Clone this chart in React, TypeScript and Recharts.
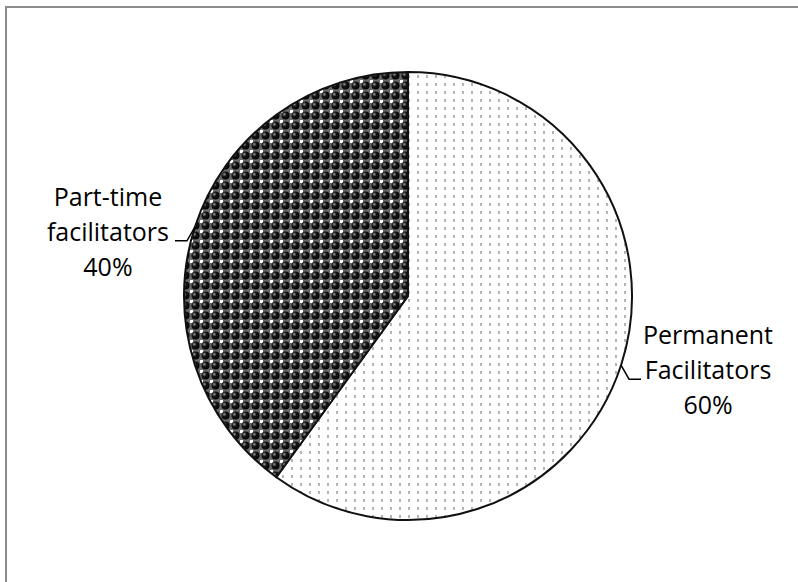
import { Cell, Pie, PieChart } from 'recharts';

const categories = ['Permanent Facilitators', 'Part-time facilitators'];
const shares = [60, 40];
const fills = ['url(#dotsLight)', 'url(#ballsDark)'];

const data = categories.map((name, i) => ({ name, value: shares[i] }));

const RADIAN = Math.PI / 180;
const FONT = '"Open Sans", "DejaVu Sans", sans-serif';

// Excel-style callout: short elbow leader, three centred text lines
const renderLabel = (props: any) => {
  const { cx, cy, midAngle, outerRadius, name, value } = props;
  const cos = Math.cos(-midAngle * RADIAN);
  const sin = Math.sin(-midAngle * RADIAN);
  const side = cos >= 0 ? 1 : -1;
  const ex = cx + outerRadius * cos;
  const ey = cy + outerRadius * sin;
  const bx = ex + side * 8;
  const by = ey + 14;
  const lx = bx + side * 12;
  const tx = lx + side * 67;
  const lines = [...String(name).split(' '), `${value}%`];
  return (
    <g>
      <polyline
        points={`${ex},${ey} ${bx},${by} ${lx},${by}`}
        fill="none"
        stroke="#000"
        strokeWidth={1.5}
      />
      {lines.map((line, i) => (
        <text
          key={i}
          x={tx}
          y={by + (i - 1) * 35}
          textAnchor="middle"
          fill="#000"
          fontFamily={FONT}
          fontSize={25}
        >
          {line}
        </text>
      ))}
    </g>
  );
};

export default function App() {
  return (
    <div style={{ position: 'absolute', left: 0, top: 0, width: 798, height: 582, background: '#fff', overflow: 'hidden' }}>
      <div
        style={{
          position: 'absolute',
          left: 5,
          top: 6,
          width: 820,
          height: 620,
          borderTop: '2px solid #8c8c8c',
          borderLeft: '2px solid #8c8c8c',
        }}
      />
      <PieChart width={798} height={582} style={{ position: 'absolute', left: 0, top: 0 }}>
        <defs>
          <pattern id="dotsLight" width={9} height={8} patternUnits="userSpaceOnUse">
            <rect width={9} height={8} fill="#fff" />
            <rect x={3} y={3} width={2} height={3} fill="#b4b4b4" />
          </pattern>
          <radialGradient id="ball" cx="0.35" cy="0.35" r="0.7">
            <stop offset="0%" stopColor="#999" />
            <stop offset="40%" stopColor="#151515" />
            <stop offset="100%" stopColor="#000" />
          </radialGradient>
          <pattern id="ballsDark" width={10} height={10} patternUnits="userSpaceOnUse">
            <rect width={10} height={10} fill="#6a6a6a" />
            <rect x={0} y={0} width={3} height={3} fill="#fff" />
            <circle cx={5.5} cy={5.5} r={4} fill="url(#ball)" />
          </pattern>
        </defs>
        <Pie
          data={data}
          dataKey="value"
          nameKey="name"
          cx={403}
          cy={291}
          outerRadius={224}
          startAngle={90}
          endAngle={-270}
          stroke="#111"
          strokeWidth={2}
          label={renderLabel}
          labelLine={false}
          isAnimationActive={false}
        >
          {data.map((d, i) => (
            <Cell key={d.name} fill={fills[i]} />
          ))}
        </Pie>
      </PieChart>
    </div>
  );
}
